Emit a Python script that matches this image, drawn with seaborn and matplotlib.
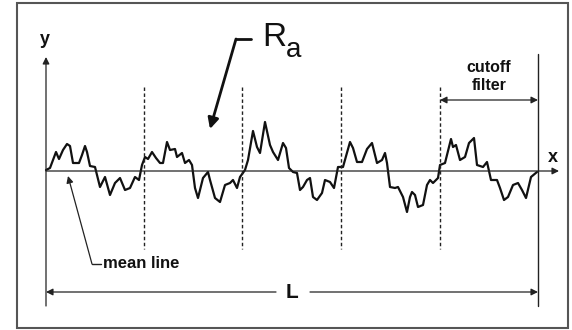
import matplotlib
matplotlib.use("Agg")
import matplotlib.pyplot as plt
import seaborn as sns
import pandas as pd
from matplotlib.patches import Rectangle

sns.set_theme(style="white")
plt.rcParams['font.family'] = ['Liberation Sans', 'DejaVu Sans']

# Surface profile (pixel x, pixel y in the reference image)
profile_x = [46, 50, 56, 59, 63, 67, 70, 73, 79, 82, 85, 87, 90, 95, 100, 105, 110, 115,
             120, 125, 130, 135, 139, 142, 145, 148, 152, 156, 160, 163, 167, 170, 175,
             177, 182, 185, 189, 192, 195, 198, 203, 208, 210, 215, 220, 225, 230, 233,
             237, 240, 245, 248, 253, 257, 260, 265, 270, 273, 278, 283, 286, 289, 293,
             297, 300, 303, 307, 310, 313, 317, 322, 325, 330, 334, 338, 343, 350, 353,
             357, 362, 367, 372, 377, 382, 385, 387, 390, 395, 398, 403, 407, 410, 412,
             415, 418, 423, 427, 430, 433, 438, 440, 445, 451, 453, 456, 460, 465, 469,
             474, 477, 483, 487, 491, 497, 500, 504, 508, 513, 518, 522, 526, 531, 537]
profile_py = [170, 168, 152, 159, 150, 144, 146, 163, 163, 155, 146, 152, 166, 167, 187,
              177, 195, 183, 178, 190, 188, 177, 180, 165, 157, 159, 152, 158, 163, 163,
              142, 150, 149, 157, 153, 163, 160, 165, 188, 198, 178, 172, 180, 198, 202,
              185, 183, 180, 188, 177, 170, 160, 131, 147, 153, 122, 145, 152, 160, 143,
              148, 168, 172, 173, 190, 187, 180, 178, 197, 200, 193, 180, 182, 188, 167,
              167, 142, 148, 162, 162, 149, 143, 163, 160, 153, 163, 187, 188, 187, 197,
              212, 197, 192, 195, 207, 205, 185, 180, 183, 178, 165, 163, 139, 147, 145,
              160, 157, 143, 138, 165, 167, 162, 180, 180, 188, 200, 197, 185, 183, 190,
              198, 177, 172]
MEAN_PY = 171
profile_h = [MEAN_PY - p for p in profile_py]

cutoff_x = [144, 242, 341, 440]
labels = {"Ra": "R", "sub": "a", "cut1": "cutoff", "cut2": "filter", "mean": "mean line", "L": "L"}

W, H = 572, 330
fig = plt.figure(figsize=(W / 100, H / 100), dpi=100)
ax = fig.add_axes([0, 0, 1, 1])
ax.set_xlim(0, W)
ax.set_ylim(MEAN_PY - H, MEAN_PY)
ax.axis("off")

def Y(py):
    return MEAN_PY - py

# frame
ax.add_patch(Rectangle((17, Y(328)), 551, 325, fill=False, ec="#555555", lw=1.5))

# profile
df = pd.DataFrame({"x": profile_x, "h": profile_h})
sns.lineplot(data=df, x="x", y="h", ax=ax, color="#111111", lw=1.6, sort=False,
             estimator=None, legend=False)
ax.set_xlabel("")
ax.set_ylabel("")

# dashed cutoff lines
for cx in cutoff_x:
    ax.plot([cx, cx], [Y(87), Y(249)], color="#222222", lw=1.0, ls=(0, (2.5, 1.8)))

# axes
ak = dict(arrowstyle="-|>", color="#222222", lw=0.9, mutation_scale=10, shrinkA=0, shrinkB=0)
ax.annotate("", xy=(46, Y(57)), xytext=(46, Y(306)), arrowprops=ak)
ax.annotate("", xy=(559, Y(171)), xytext=(46, Y(171)), arrowprops=ak)
ax.plot([538, 538], [Y(54), Y(306)], color="#222222", lw=1.0)
ax.text(45, Y(40), "y", fontsize=13, fontweight="bold", ha="center", va="center", color="#111111")
ax.text(553, Y(157), "x", fontsize=13, fontweight="bold", ha="center", va="center", color="#111111")

# cutoff filter
dk = dict(arrowstyle="<|-|>", color="#222222", lw=0.9, mutation_scale=10, shrinkA=0, shrinkB=0)
ax.annotate("", xy=(538, Y(100)), xytext=(440, Y(100)), arrowprops=dk)
ax.text(489, Y(68), labels["cut1"], fontsize=11.5, fontweight="bold", ha="center", va="center",
        color="#111111")
ax.text(489, Y(86), labels["cut2"], fontsize=11.5, fontweight="bold", ha="center", va="center",
        color="#111111")

# L dimension
ax.annotate("", xy=(46, Y(292)), xytext=(276, Y(292)), arrowprops=ak)
ax.annotate("", xy=(538, Y(292)), xytext=(310, Y(292)), arrowprops=ak)
ax.text(292, Y(292), labels["L"], fontsize=15, fontweight="bold", ha="center", va="center",
        color="#111111")

# Ra label
ax.text(262, Y(38), labels["Ra"], fontsize=24, ha="left", va="center", color="#111111")
ax.text(286, Y(50), labels["sub"], fontsize=20, ha="left", va="center", color="#111111")
ax.plot([251, 236], [Y(39), Y(39)], color="#111111", lw=2.0)
ax.annotate("", xy=(210, Y(129)), xytext=(236, Y(39)),
            arrowprops=dict(arrowstyle="-|>", color="#111111", lw=2.0, mutation_scale=16,
                            shrinkA=0, shrinkB=0))

# mean line label
ax.text(103, Y(264), labels["mean"], fontsize=12, fontweight="bold", ha="left", va="center",
        color="#111111")
ax.plot([101, 92], [Y(264), Y(264)], color="#222222", lw=1.0)
ax.annotate("", xy=(68, Y(176)), xytext=(92, Y(264)), arrowprops=ak)

fig.savefig("out.png", dpi=100)
